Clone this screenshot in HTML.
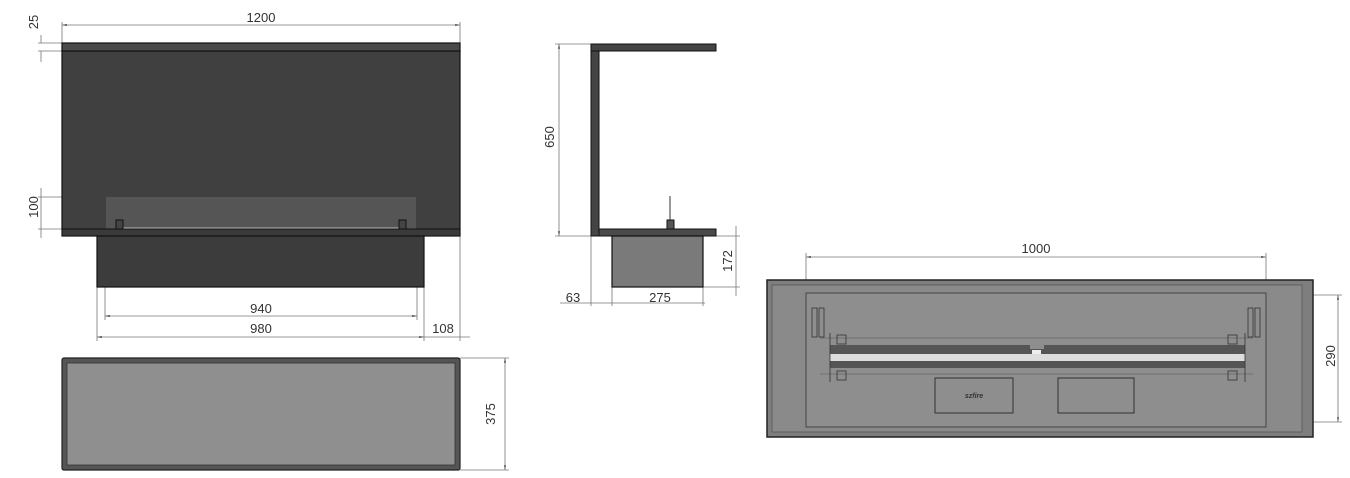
<!DOCTYPE html>
<html><head><style>body{margin:0;background:#fff}svg{display:block}text{font-family:"Liberation Sans",sans-serif;font-size:13px;fill:#333}</style></head>
<body>
<svg width="1350" height="478" viewBox="0 0 1350 478" xmlns="http://www.w3.org/2000/svg">
<defs><marker id="a" viewBox="0 0 10 10" refX="10" refY="5" markerWidth="6" markerHeight="6" orient="auto-start-reverse"><path d="M0,3L10,5L0,7z" fill="#444"/></marker></defs>
<g stroke="#777" stroke-width="0.8" fill="none">
<line x1="62" y1="25" x2="460" y2="25" marker-start="url(#a)" marker-end="url(#a)"/>
<line x1="62" y1="22" x2="62" y2="43"/><line x1="460" y1="22" x2="460" y2="43"/>
<line x1="41" y1="35" x2="41" y2="43"/><line x1="41" y1="51" x2="41" y2="62"/>
<line x1="38" y1="43" x2="62" y2="43"/><line x1="38" y1="51" x2="62" y2="51"/>
<line x1="41" y1="188" x2="41" y2="238"/>
<line x1="38" y1="197" x2="106" y2="197"/><line x1="38" y1="229" x2="62" y2="229"/>
<line x1="105" y1="316" x2="417" y2="316" marker-start="url(#a)" marker-end="url(#a)"/>
<line x1="105" y1="236" x2="105" y2="320"/><line x1="417" y1="236" x2="417" y2="320"/>
<line x1="97" y1="337" x2="424" y2="337" marker-start="url(#a)" marker-end="url(#a)"/>
<line x1="97" y1="287" x2="97" y2="341"/><line x1="424" y1="287" x2="424" y2="341"/>
<line x1="460" y1="236" x2="460" y2="341"/><line x1="424" y1="337" x2="470" y2="337"/>
<line x1="505" y1="358" x2="505" y2="470" marker-start="url(#a)" marker-end="url(#a)"/>
<line x1="460" y1="358" x2="509" y2="358"/><line x1="460" y1="470" x2="509" y2="470"/>
<line x1="559" y1="44" x2="559" y2="236" marker-start="url(#a)" marker-end="url(#a)"/>
<line x1="555" y1="44" x2="591" y2="44"/><line x1="555" y1="236" x2="591" y2="236"/>
<line x1="736" y1="226" x2="736" y2="296"/>
<line x1="716" y1="236" x2="740" y2="236"/><line x1="703" y1="287" x2="740" y2="287"/>
<line x1="560" y1="303" x2="705" y2="303"/>
<line x1="591" y1="236" x2="591" y2="306"/><line x1="612" y1="287" x2="612" y2="306"/><line x1="703" y1="287" x2="703" y2="306"/>
<line x1="806" y1="257" x2="1266" y2="257" marker-start="url(#a)" marker-end="url(#a)"/>
<line x1="806" y1="253" x2="806" y2="293"/><line x1="1266" y1="253" x2="1266" y2="293"/>
<line x1="1338" y1="295" x2="1338" y2="422" marker-start="url(#a)" marker-end="url(#a)"/>
<line x1="1266" y1="295" x2="1342" y2="295"/><line x1="1300" y1="422" x2="1342" y2="422"/>
</g>
<rect x="62" y="51" width="398" height="185" fill="#404040" stroke="#111" stroke-width="1.2"/>
<rect x="62" y="43" width="398" height="8" fill="#4a4a4a" stroke="#111" stroke-width="1.2"/>
<rect x="106" y="197" width="310" height="33" fill="#555"/>
<rect x="62" y="229" width="398" height="7" fill="#3a3a3a" stroke="#111" stroke-width="1"/>
<line x1="122" y1="228" x2="400" y2="228" stroke="#bbb" stroke-width="1"/>
<rect x="116" y="220" width="7" height="9" fill="#444" stroke="#111"/>
<rect x="399" y="220" width="7" height="9" fill="#444" stroke="#111"/>
<rect x="97" y="236" width="327" height="51" fill="#3c3c3c" stroke="#111" stroke-width="1.2"/>
<rect x="62" y="358" width="398" height="112" rx="2" fill="#555" stroke="#222" stroke-width="1.2"/>
<rect x="67" y="363" width="388" height="102" fill="#8f8f8f" stroke="#333" stroke-width="0.8"/>
<rect x="591" y="44" width="125" height="7" fill="#444" stroke="#111"/>
<rect x="591" y="51" width="8" height="185" fill="#444" stroke="#111"/>
<line x1="670" y1="196" x2="670" y2="226" stroke="#999" stroke-width="2"/>
<rect x="667" y="220" width="7" height="9" fill="#555" stroke="#111"/>
<rect x="599" y="229" width="117" height="7" fill="#4a4a4a" stroke="#111"/>
<rect x="612" y="236" width="91" height="51" fill="#7a7a7a" stroke="#111" stroke-width="1.2"/>
<rect x="767" y="280" width="546" height="157" fill="#7e7e7e" stroke="#222" stroke-width="1.5"/>
<rect x="772" y="285" width="530" height="147" fill="#8a8a8a" stroke="#555" stroke-width="0.8"/>
<rect x="806" y="293" width="460" height="134" fill="#8e8e8e" stroke="#333" stroke-width="0.8"/>
<rect x="830" y="345" width="415" height="9" fill="#555"/>
<rect x="830" y="354" width="415" height="7" fill="#ddd"/>
<rect x="830" y="361" width="415" height="7" fill="#555"/>
<rect x="1030" y="344" width="14" height="5" fill="#8e8e8e"/>
<rect x="1032" y="350" width="9" height="4" fill="#eee"/>
<g fill="none" stroke="#333" stroke-width="0.8">
<rect x="812" y="308" width="5" height="29"/><rect x="819" y="308" width="5" height="29"/>
<rect x="1248" y="308" width="5" height="29"/><rect x="1255" y="308" width="5" height="29"/>
<line x1="820" y1="338" x2="1253" y2="338" stroke="#666"/><line x1="820" y1="374" x2="1253" y2="374" stroke="#666"/>
<line x1="830" y1="333" x2="830" y2="382"/><line x1="1245" y1="333" x2="1245" y2="382"/>
<rect x="837" y="335" width="9" height="9"/><rect x="1228" y="335" width="9" height="9"/>
<rect x="837" y="371" width="9" height="9"/><rect x="1228" y="371" width="9" height="9"/>
<rect x="935" y="378" width="78" height="35" stroke-width="1"/>
<rect x="1058" y="378" width="76" height="35" stroke-width="1"/>
</g>
<text x="974" y="398" text-anchor="middle" style="font-size:7px;font-style:italic;font-weight:bold;fill:#333">szfire</text>
<text x="261" y="22" text-anchor="middle">1200</text>
<text x="261" y="313" text-anchor="middle">940</text>
<text x="261" y="333" text-anchor="middle">980</text>
<text x="443" y="333" text-anchor="middle">108</text>
<text x="1036" y="253" text-anchor="middle">1000</text>
<text x="660" y="302" text-anchor="middle">275</text>
<text x="573" y="302" text-anchor="middle">63</text>
<text transform="translate(38,22) rotate(-90)" text-anchor="middle">25</text>
<text transform="translate(38,207) rotate(-90)" text-anchor="middle">100</text>
<text transform="translate(495,414) rotate(-90)" text-anchor="middle">375</text>
<text transform="translate(554,137) rotate(-90)" text-anchor="middle">650</text>
<text transform="translate(732,261) rotate(-90)" text-anchor="middle">172</text>
<text transform="translate(1335,356) rotate(-90)" text-anchor="middle">290</text>
</svg>
</body></html>
